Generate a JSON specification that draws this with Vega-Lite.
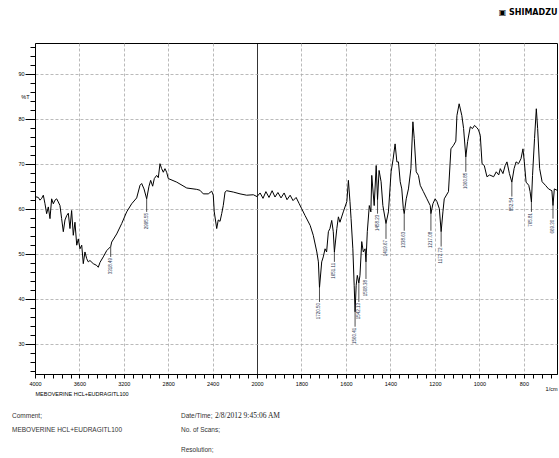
{
  "$schema": "https://vega.github.io/schema/vega-lite/v6.json",
  "padding": {"left": 12, "top": 8, "right": 2, "bottom": 0},
  "background": "white",
  "title": {"text": "▣ SHIMADZU", "anchor": "end", "font": "DejaVu Sans", "fontSize": 8, "fontWeight": "bold", "color": "black", "offset": 26},
  "config": {"font": "Liberation Sans", "view": {"stroke": null}},
  "spacing": 12,
  "datasets": {
    "spec": [
      {"wn":4000,"t":62.7},{"wn":3970,"t":62.5},{"wn":3955,"t":61.9},{"wn":3940,"t":62.3},{"wn":3925,"t":63.0},{"wn":3910,"t":61.1},{"wn":3895,"t":58.9},{"wn":3880,"t":60.4},{"wn":3865,"t":57.8},{"wn":3850,"t":62.2},{"wn":3835,"t":61.1},{"wn":3820,"t":61.9},{"wn":3805,"t":62.2},{"wn":3790,"t":61.5},{"wn":3775,"t":60.7},{"wn":3760,"t":57.8},{"wn":3745,"t":54.9},{"wn":3730,"t":57.5},{"wn":3714,"t":58.5},{"wn":3700,"t":59.0},{"wn":3685,"t":55.6},{"wn":3670,"t":59.6},{"wn":3655,"t":54.1},{"wn":3640,"t":57.0},{"wn":3624,"t":51.9},{"wn":3610,"t":53.3},{"wn":3595,"t":51.1},{"wn":3579,"t":51.9},{"wn":3565,"t":47.8},{"wn":3550,"t":50.4},{"wn":3534,"t":48.9},{"wn":3520,"t":48.2},{"wn":3505,"t":48.5},{"wn":3475,"t":47.8},{"wn":3444,"t":47.4},{"wn":3430,"t":47.0},{"wn":3414,"t":48.1},{"wn":3385,"t":49.3},{"wn":3354,"t":50.7},{"wn":3318,"t":51.6},{"wn":3309,"t":52.6},{"wn":3264,"t":54.4},{"wn":3219,"t":56.7},{"wn":3174,"t":59.3},{"wn":3129,"t":61.1},{"wn":3084,"t":62.4},{"wn":3054,"t":65.2},{"wn":3039,"t":65.6},{"wn":3018,"t":64.4},{"wn":2994,"t":62.2},{"wn":2973,"t":65.0},{"wn":2958,"t":66.3},{"wn":2940,"t":65.0},{"wn":2925,"t":66.7},{"wn":2904,"t":67.4},{"wn":2889,"t":66.9},{"wn":2874,"t":70.0},{"wn":2859,"t":68.9},{"wn":2844,"t":68.1},{"wn":2829,"t":68.9},{"wn":2814,"t":68.1},{"wn":2799,"t":66.7},{"wn":2723,"t":65.9},{"wn":2633,"t":64.6},{"wn":2543,"t":64.3},{"wn":2514,"t":64.1},{"wn":2484,"t":63.3},{"wn":2439,"t":63.3},{"wn":2408,"t":63.9},{"wn":2394,"t":63.0},{"wn":2385,"t":59.3},{"wn":2363,"t":55.6},{"wn":2349,"t":57.5},{"wn":2333,"t":57.2},{"wn":2318,"t":58.9},{"wn":2304,"t":60.7},{"wn":2288,"t":63.7},{"wn":2273,"t":64.0},{"wn":2213,"t":63.7},{"wn":2153,"t":63.3},{"wn":2093,"t":63.0},{"wn":2033,"t":63.1},{"wn":2000,"t":62.7},
      {"wn":1986,"t":63.5},{"wn":1973,"t":62.3},{"wn":1960,"t":63.8},{"wn":1946,"t":62.5},{"wn":1932,"t":64.0},{"wn":1919,"t":62.6},{"wn":1906,"t":63.6},{"wn":1892,"t":62.4},{"wn":1878,"t":63.5},{"wn":1865,"t":62.0},{"wn":1851,"t":63.0},{"wn":1838,"t":61.8},{"wn":1824,"t":62.5},{"wn":1811,"t":61.2},{"wn":1799,"t":60.0},{"wn":1784,"t":58.5},{"wn":1761,"t":56.3},{"wn":1747,"t":54.1},{"wn":1731,"t":50.4},{"wn":1724,"t":48.2},{"wn":1719,"t":42.5},{"wn":1709,"t":48.2},{"wn":1702,"t":49.3},{"wn":1694,"t":51.1},{"wn":1687,"t":50.4},{"wn":1679,"t":54.9},{"wn":1672,"t":55.6},{"wn":1664,"t":57.4},{"wn":1657,"t":54.9},{"wn":1652,"t":50.4},{"wn":1641,"t":55.6},{"wn":1634,"t":58.2},{"wn":1627,"t":57.0},{"wn":1612,"t":59.3},{"wn":1596,"t":61.6},{"wn":1589,"t":66.3},{"wn":1582,"t":61.6},{"wn":1577,"t":57.8},{"wn":1569,"t":51.1},{"wn":1563,"t":43.0},{"wn":1559,"t":37.1},{"wn":1554,"t":43.0},{"wn":1549,"t":45.2},{"wn":1542,"t":43.5},{"wn":1537,"t":45.2},{"wn":1529,"t":52.7},{"wn":1522,"t":50.4},{"wn":1514,"t":51.1},{"wn":1510,"t":48.2},{"wn":1504,"t":54.9},{"wn":1495,"t":60.7},{"wn":1488,"t":59.3},{"wn":1484,"t":67.4},{"wn":1473,"t":60.7},{"wn":1464,"t":69.6},{"wn":1458,"t":62.0},{"wn":1451,"t":68.5},{"wn":1442,"t":66.0},{"wn":1434,"t":60.7},{"wn":1420,"t":56.7},{"wn":1409,"t":59.3},{"wn":1397,"t":68.2},{"wn":1388,"t":71.0},{"wn":1379,"t":74.4},{"wn":1371,"t":70.4},{"wn":1364,"t":70.4},{"wn":1356,"t":66.0},{"wn":1349,"t":64.4},{"wn":1342,"t":60.0},{"wn":1338,"t":58.9},{"wn":1329,"t":62.2},{"wn":1319,"t":64.4},{"wn":1308,"t":68.9},{"wn":1299,"t":79.3},{"wn":1293,"t":75.6},{"wn":1284,"t":68.2},{"wn":1274,"t":67.4},{"wn":1266,"t":65.2},{"wn":1252,"t":63.8},{"wn":1236,"t":62.2},{"wn":1221,"t":60.7},{"wn":1218,"t":58.9},{"wn":1209,"t":61.1},{"wn":1199,"t":62.2},{"wn":1191,"t":61.6},{"wn":1180,"t":60.0},{"wn":1172,"t":54.9},{"wn":1164,"t":59.3},{"wn":1158,"t":62.2},{"wn":1139,"t":63.8},{"wn":1128,"t":73.3},{"wn":1116,"t":74.1},{"wn":1106,"t":75.0},{"wn":1101,"t":80.7},{"wn":1091,"t":83.3},{"wn":1079,"t":80.7},{"wn":1071,"t":77.8},{"wn":1061,"t":71.5},{"wn":1053,"t":74.9},{"wn":1041,"t":78.2},{"wn":1031,"t":77.8},{"wn":1022,"t":78.5},{"wn":1011,"t":78.0},{"wn":1004,"t":77.5},{"wn":996,"t":76.3},{"wn":988,"t":70.0},{"wn":978,"t":69.6},{"wn":966,"t":67.1},{"wn":954,"t":67.5},{"wn":936,"t":67.1},{"wn":924,"t":68.2},{"wn":913,"t":67.5},{"wn":906,"t":68.9},{"wn":894,"t":67.8},{"wn":884,"t":69.6},{"wn":876,"t":70.4},{"wn":865,"t":67.8},{"wn":854,"t":65.9},{"wn":844,"t":68.9},{"wn":835,"t":70.4},{"wn":824,"t":70.0},{"wn":813,"t":71.1},{"wn":804,"t":73.3},{"wn":798,"t":70.4},{"wn":790,"t":65.9},{"wn":778,"t":65.2},{"wn":772,"t":63.8},{"wn":766,"t":61.5},{"wn":761,"t":67.4},{"wn":752,"t":75.6},{"wn":744,"t":82.2},{"wn":738,"t":77.8},{"wn":729,"t":68.9},{"wn":718,"t":66.0},{"wn":703,"t":65.2},{"wn":689,"t":64.4},{"wn":674,"t":64.0},{"wn":669,"t":60.7},{"wn":663,"t":64.4},{"wn":651,"t":64.1}
    ],
    "peaks": [
      {"wn":3318,"t1":51.6,"t2":49.3,"lab":"3318.49"},
      {"wn":2994,"t1":62.2,"t2":59.3,"lab":"2995.55"},
      {"wn":1719,"t1":42.5,"t2":39.3,"lab":"1720.50"},
      {"wn":1652,"t1":50.4,"t2":48.2,"lab":"1651.11"},
      {"wn":1559,"t1":37.1,"t2":33.8,"lab":"1560.41"},
      {"wn":1542,"t1":43.5,"t2":39.3,"lab":"1542.13"},
      {"wn":1510,"t1":48.2,"t2":44.4,"lab":"1508.38"},
      {"wn":1458,"t1":62.0,"t2":58.9,"lab":"1458.23"},
      {"wn":1420,"t1":56.7,"t2":53.3,"lab":"1419.67"},
      {"wn":1338,"t1":58.9,"t2":55.1,"lab":"1338.63"},
      {"wn":1218,"t1":58.9,"t2":55.1,"lab":"1217.08"},
      {"wn":1172,"t1":54.9,"t2":51.6,"lab":"1172.72"},
      {"wn":1061,"t1":71.5,"t2":68.2,"lab":"1060.85"},
      {"wn":854,"t1":65.9,"t2":62.7,"lab":"852.54"},
      {"wn":766,"t1":61.5,"t2":59.3,"lab":"765.81"},
      {"wn":669,"t1":60.7,"t2":57.8,"lab":"669.30"}
    ],
    "info": [
      {"col":1,"line":1,"text":"Comment;"},
      {"col":1,"line":2,"text":"MEBOVERINE HCL+EUDRAGITL100"},
      {"col":2,"line":1,"text":"Date/Time;"},
      {"col":3,"line":1,"text":"2/8/2012 9:45:06 AM"},
      {"col":2,"line":2,"text":"No. of Scans;"},
      {"col":2,"line":4,"text":"Resolution;"}
    ]
  },
  "vconcat": [
    {
      "width": 522,
      "height": 331,
      "view": {"stroke": "black", "strokeWidth": 1},
      "layer": [
        {
          "data": {"name": "spec"},
          "mark": {"type": "line", "color": "black", "strokeWidth": 1, "clip": true},
          "encoding": {
            "x": {
              "field": "wn", "type": "quantitative",
              "scale": {"domain": [4000, 2000, 651], "range": [0, 222, 522], "nice": false, "zero": false},
              "axis": {
                "title": "MEBOVERINE HCL+EUDRAGITL100",
                "titleAnchor": "start", "titleAlign": "left", "titleFontSize": 5.5, "titleFontWeight": "normal", "titlePadding": 0, "titleColor": "black",
                "tickCount": 1000,
                "values": [4000,3920,3840,3760,3680,3600,3520,3440,3360,3280,3200,3120,3040,2960,2880,2800,2720,2640,2560,2480,2400,2320,2240,2160,2080,2000,1960,1920,1880,1840,1800,1760,1720,1680,1640,1600,1560,1520,1480,1440,1400,1360,1320,1280,1240,1200,1160,1120,1080,1040,1000,960,920,880,840,800,760,720,680,651],
                "format": "d",
                "labelExpr": "datum.value == 651 ? '1/cm' : (((datum.value >= 2000 && datum.value % 400 == 0) || (datum.value < 2000 && datum.value % 200 == 0)) ? datum.label : '')",
                "labelFontSize": 5.5, "labelColor": "black", "labelFlush": false, "labelOverlap": false,
                "labelPadding": {"condition": {"test": "datum.value == 651", "value": 8}, "value": 3},
                "labelAlign": {"condition": {"test": "datum.value == 651", "value": "right"}, "value": "center"},
                "tickSize": 4, "tickColor": "black",
                "tickOpacity": {"condition": {"test": "datum.value == 651", "value": 0}, "value": 1},
                "domainColor": "black",
                "grid": true,
                "gridColor": {"condition": {"test": "datum.value == 2000", "value": "black"}, "value": "#a8a8a8"},
                "gridDash": {"condition": {"test": "datum.value == 2000", "value": []}, "value": [3, 2]},
                "gridWidth": 0.8,
                "gridOpacity": {"condition": {"test": "datum.value != 651 && ((datum.value >= 2000 && datum.value % 400 == 0) || (datum.value < 2000 && datum.value % 200 == 0))", "value": 1}, "value": 0}
              }
            },
            "y": {
              "field": "t", "type": "quantitative",
              "scale": {"domain": [23.3, 96.8], "nice": false, "zero": false},
              "axis": {
                "title": null,
                "tickCount": 1000,
                "format": "d",
                "values": [24,26,28,30,32,34,36,38,40,42,44,46,48,50,52,54,56,58,60,62,64,66,68,70,72,74,76,78,80,82,84,85,86,88,90,92,94,96],
                "labelExpr": "datum.value == 85 ? '%T' : (datum.value % 10 == 0 ? datum.label : '')",
                "labelFontSize": 5.5, "labelColor": "black", "labelPadding": 1, "labelFlush": false, "labelOverlap": false,
                "tickColor": "black",
                "tickSize": {"condition": {"test": "datum.value % 10 == 0", "value": 10}, "value": 5},
                "tickOpacity": {"condition": {"test": "datum.value == 85", "value": 0}, "value": 1},
                "domainColor": "black",
                "grid": true, "gridColor": "#a8a8a8", "gridDash": [3, 2], "gridWidth": 0.8,
                "gridOpacity": {"condition": {"test": "datum.value % 10 == 0 && datum.value >= 30 && datum.value <= 90", "value": 1}, "value": 0}
              }
            }
          }
        },
        {
          "data": {"name": "peaks"},
          "mark": {"type": "rule", "color": "#222", "strokeWidth": 0.8},
          "encoding": {
            "x": {"field": "wn", "type": "quantitative"},
            "y": {"field": "t1", "type": "quantitative"},
            "y2": {"field": "t2"}
          }
        },
        {
          "data": {"name": "peaks"},
          "mark": {"type": "text", "angle": 270, "align": "right", "baseline": "middle", "fontSize": 4.5, "color": "#2a3550", "dx": -1},
          "encoding": {
            "x": {"field": "wn", "type": "quantitative"},
            "y": {"field": "t2", "type": "quantitative"},
            "text": {"field": "lab"}
          }
        }
      ]
    },
    {
      "width": 522,
      "height": 45,
      "data": {"name": "info"},
      "encoding": {
        "x": {"field": "col", "type": "quantitative", "scale": {"domain": [1, 2, 3], "range": [-23, 146, 180], "nice": false, "zero": false}, "axis": null},
        "y": {"field": "line", "type": "quantitative", "scale": {"domain": [1, 2, 4], "range": [6, 20, 40], "nice": false, "zero": false}, "axis": null},
        "text": {"field": "text"}
      },
      "layer": [
        {
          "transform": [{"filter": "datum.col != 3"}],
          "mark": {"type": "text", "align": "left", "baseline": "middle", "fontSize": 6.5, "font": "Liberation Sans", "color": "#333"}
        },
        {
          "transform": [{"filter": "datum.col == 3"}],
          "mark": {"type": "text", "align": "left", "baseline": "middle", "fontSize": 7.5, "font": "Liberation Serif", "color": "#222"}
        }
      ]
    }
  ]
}
